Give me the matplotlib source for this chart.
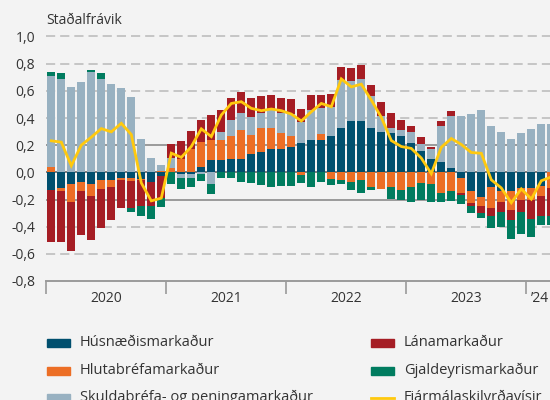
import numpy as np
import matplotlib
matplotlib.use("Agg")
import matplotlib.pyplot as plt
from matplotlib.patches import Rectangle
from matplotlib.lines import Line2D

plt.rcParams['font.family'] = ['Open Sans', 'DejaVu Sans']

# monthly, Jan 2020 - Mar 2024 (standard deviations)
husnaedis = [-0.127, -0.112, -0.083, -0.068, -0.083, -0.054, -0.054, -0.039, -0.039, -0.046, -0.068, -0.030,
             0.0, -0.013, -0.013, 0.041, 0.093, 0.093, 0.100, 0.100, 0.137, 0.151, 0.173, 0.173,
             0.188, 0.217, 0.239, 0.239, 0.268, 0.327, 0.378, 0.378, 0.327, 0.298, 0.290, 0.268,
             0.217, 0.159, 0.100, 0.078, 0.034, -0.039, -0.134, -0.178, -0.105, -0.141, -0.134, -0.112,
             -0.112, -0.098, 0.0]
hlutabref = [0.037, -0.022, -0.139, -0.066, -0.088, -0.066, -0.051, -0.015, -0.022, -0.007, 0.0, 0.012,
             0.034, 0.098, 0.173, 0.183, 0.146, 0.146, 0.168, 0.212, 0.139, 0.176, 0.154, 0.117,
             0.080, -0.017, 0.0, 0.044, -0.046, -0.054, -0.068, -0.054, -0.105, -0.124, -0.110, -0.127,
             -0.105, -0.078, -0.083, -0.154, -0.134, -0.110, -0.095, -0.073, -0.154, -0.080, -0.146, -0.088,
             -0.088, -0.073, -0.117]
skuldabref = [0.670, 0.685, 0.627, 0.666, 0.737, 0.685, 0.649, 0.620, 0.554, 0.246, 0.107, 0.044,
              0.073, -0.032, -0.032, -0.015, -0.083, 0.059, 0.117, 0.124, 0.132, 0.110, 0.132, 0.146,
              0.161, 0.154, 0.220, 0.190, 0.212, 0.351, 0.293, 0.307, 0.234, 0.117, 0.037, 0.044,
              0.080, 0.051, 0.073, 0.263, 0.380, 0.415, 0.429, 0.459, 0.341, 0.298, 0.246, 0.290,
              0.320, 0.356, 0.356]
lanamarkadur = [-0.385, -0.378, -0.357, -0.329, -0.328, -0.293, -0.247, -0.211, -0.205, -0.195, -0.177, -0.161,
                0.104, 0.134, 0.132, 0.161, 0.183, 0.161, 0.161, 0.154, 0.139, 0.124, 0.110, 0.110,
                0.110, 0.095, 0.110, 0.095, 0.095, 0.095, 0.095, 0.102, 0.080, 0.102, 0.110, 0.073,
                0.044, 0.051, 0.015, 0.037, 0.037, -0.015, -0.022, -0.051, -0.066, -0.073, -0.073, -0.095,
                -0.146, -0.151, -0.205]
gjaldeyris = [0.030, 0.044, 0.0, 0.0, 0.015, 0.044, 0.0, 0.0, -0.029, -0.070, -0.095, -0.063,
              -0.083, -0.078, -0.066, -0.052, -0.076, -0.044, -0.044, -0.073, -0.080, -0.095, -0.110, -0.102,
              -0.100, -0.065, -0.110, -0.073, -0.049, -0.034, -0.063, -0.100, -0.027, 0.0, -0.083, -0.080,
              -0.110, -0.127, -0.137, -0.066, -0.078, -0.066, -0.051, -0.037, -0.088, -0.110, -0.139, -0.161,
              -0.129, -0.068, -0.068]
fjarmalaskilyrdi = [0.232, 0.222, 0.049, 0.200, 0.259, 0.322, 0.298, 0.361, 0.278, -0.078, -0.210, -0.190,
                    0.141, 0.110, 0.190, 0.320, 0.263, 0.422, 0.507, 0.520, 0.471, 0.454, 0.466, 0.454,
                    0.429, 0.378, 0.446, 0.507, 0.483, 0.688, 0.629, 0.649, 0.532, 0.405, 0.234, 0.190,
                    0.176, 0.105, -0.010, 0.185, 0.249, 0.205, 0.146, 0.140, -0.055, -0.115, -0.224, -0.122,
                    -0.197, -0.062, -0.034]

series_names = ['Húsnæðismarkaður', 'Hlutabréfamarkaður', 'Skuldabréfa- og peningamarkaður',
                'Lánamarkaður', 'Gjaldeyrismarkaður']
series_colors = ['#004F6E', '#EC6E25', '#98B1C1', '#A51D24', '#007C5F']
line_name = 'Fjármálaskilyrðavísir'
line_color = '#FFC90E'

year_labels = ['2020', '2021', '2022', '2023', '\u201924']
yticks = [1.0, 0.8, 0.6, 0.4, 0.2, 0.0, -0.2, -0.4, -0.6, -0.8]

bg = '#F3F3F3'
txt = '#333333'

fig = plt.figure(figsize=(5.5, 4), dpi=100, facecolor=bg)
ax = fig.add_axes([46.3 / 550, 119 / 400, 510 / 550, 244.5 / 400])
ax.set_facecolor(bg)

x = np.arange(len(husnaedis))
data = [husnaedis, hlutabref, skuldabref, lanamarkadur, gjaldeyris]
pos_base = np.zeros(len(x))
neg_base = np.zeros(len(x))
for vals, col in zip(data, series_colors):
    v = np.array(vals)
    p = np.where(v > 0, v, 0)
    n = np.where(v < 0, v, 0)
    ax.bar(x, p, 0.8, bottom=pos_base, color=col, zorder=3, linewidth=0)
    ax.bar(x, n, 0.8, bottom=neg_base, color=col, zorder=3, linewidth=0)
    pos_base += p
    neg_base += n

ax.plot(x, fjarmalaskilyrdi, color=line_color, lw=2.0, zorder=5, solid_joinstyle='miter')

# gridlines
for y in yticks:
    if y in (0.2, -0.2):
        ax.axhline(y, color='#9A9A9A', lw=1.4, zorder=1)
    elif y == 0.0:
        ax.axhline(y, color='#7A7A7A', lw=1.4, zorder=1)
    elif y == -0.8:
        continue
    else:
        ax.axhline(y, color='#BDBDBD', lw=1.2, ls=(0, (5.5, 3)), zorder=1, clip_on=False)

ax.set_xlim(-0.5, len(x) - 0.5)
ax.set_ylim(-0.8, 1.0)

for s in ['top', 'right', 'left']:
    ax.spines[s].set_visible(False)
ax.spines['bottom'].set_color('#9A9A9A')
ax.spines['bottom'].set_linewidth(1.4)

ax.set_yticks(yticks)
ax.set_yticklabels([f'{v:.1f}'.replace('.', ',') for v in yticks])
ax.tick_params(axis='y', length=0, pad=8, labelsize=10, labelcolor=txt)

ax.set_xticks([-0.5, 11.5, 23.5, 35.5, 47.5])
ax.set_xticklabels([])
ax.set_xticks([5.5, 17.5, 29.5, 41.5, 48.9], minor=True)
ax.set_xticklabels(year_labels, minor=True)
ax.tick_params(axis='x', which='major', length=9, width=1.2, color='#9A9A9A', direction='out')
ax.tick_params(axis='x', which='minor', length=0, pad=7, labelsize=10, labelcolor=txt)

fig.text(46 / 550, 1 - 20 / 400, 'Staðalfrávik', fontsize=10, color=txt, va='center', ha='left')

# legend
rows_y = [343, 370.5, 397.5]
cols_x = [47, 371]
entries = list(zip(series_names, series_colors)) + [(line_name, None)]
order = [(0, 0), (0, 1), (0, 2), (1, 0), (1, 1), (1, 2)]
for (name, col), (ci, ri) in zip(entries, order):
    xx = cols_x[ci] / 550
    yy = 1 - rows_y[ri] / 400
    if col is not None:
        fig.patches.append(Rectangle((xx, yy - 4 / 400), 23 / 550, 8 / 400,
                                     transform=fig.transFigure, color=col))
    else:
        fig.lines.append(Line2D([xx, xx + 23 / 550], [yy, yy], transform=fig.transFigure,
                                color=line_color, lw=2))
    fig.text(xx + 33 / 550, yy, name, fontsize=10.5, color=txt, va='center', ha='left')

fig.savefig('out.png', dpi=100, facecolor=bg)
